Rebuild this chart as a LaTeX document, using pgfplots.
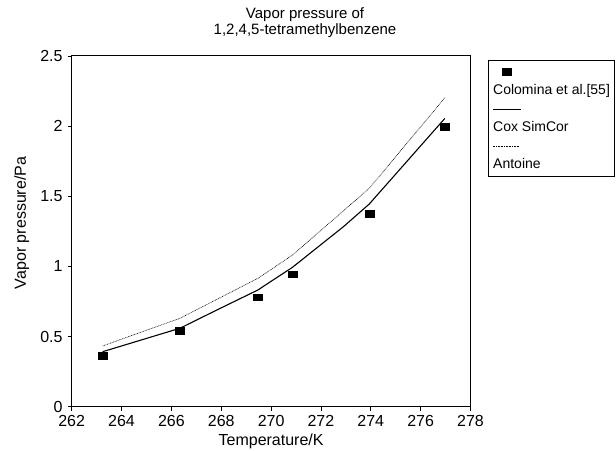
\documentclass[border=0pt]{standalone}
\usepackage{fontspec}
\setmainfont{Liberation Sans}
\usepackage{pgfplots}
\pgfplotsset{compat=1.18}
\pgfplotsset{
  legsq/.style={legend image code/.code={\path (0pt,0pt); \fill[overlay,black] (9.5pt,-3.5pt) rectangle (18.5pt,3.5pt);}},
  legline/.style={legend image code/.code={\path (0pt,0pt); \draw[overlay,black,line width=1.1pt] (0pt,0pt) -- (28pt,0pt);}},
  legdot/.style={legend image code/.code={\path (0pt,0pt); \draw[overlay,black,line width=0.6pt,dash pattern=on 0.8pt off 0.8pt] (0pt,0pt) -- (27pt,0pt);}},
  legnone/.style={legend image code/.code={\path (0pt,0pt);}},
}
\begin{document}
\begin{tikzpicture}[x=1pt,y=1pt]
\useasboundingbox (0,0) rectangle (616,450);
\begin{axis}[
  at={(71.7pt,43.3pt)}, anchor=south west,
  scale only axis, width=398.8pt, height=350.7pt,
  xmin=262, xmax=278, ymin=0, ymax=2.5,
  xtick={262,264,...,278}, ytick={0,0.5,1,1.5,2,2.5},
  yticklabels={0,0.5,1,1.5,2,2.5},
  xtick pos=bottom, ytick pos=left, tick align=outside,
  major tick length=4pt,
  axis line style={line width=1pt},
  tick style={line width=0.8pt, black},
  /pgf/number format/assume math mode=true,
  every tick label/.append style={font=\fontsize{16}{17}\selectfont, inner sep=0.5pt},
  xticklabel style={yshift=-4pt},
  yticklabel style={xshift=-4.5pt},
  xlabel={Temperature/K}, ylabel={Vapor pressure/Pa},
  label style={font=\fontsize{16}{17}\selectfont},
  xlabel style={at={(axis description cs:0.5,-0.111)}, anchor=base},
  ylabel style={at={(axis description cs:-0.1254,0.524)}, anchor=center, rotate=0},
  title={Vapor pressure of\\1,2,4,5-tetramethylbenzene},
  title style={at={(axis description cs:0.585,1.079)}, anchor=center, align=center, font=\fontsize{15}{16}\selectfont},
  legend cell align=left,
  legend style={at={(axis description cs:1.0439,0.9886)}, anchor=north west,
    draw=black, line width=0.8pt, inner sep=4pt, row sep=2.5pt,
    nodes={inner sep=0pt, text height=12pt, text depth=4pt, font=\fontsize{14}{16}\selectfont}},
]
\addplot[black, line width=1.1pt, forget plot] coordinates {
  (263.24,0.392) (266.34,0.559) (267.82,0.689) (269.47,0.832)
  (270.86,0.994) (272.90,1.283) (273.94,1.445) (276.97,2.055)
};
\addplot[black, line width=0.6pt, dash pattern=on 0.8pt off 0.8pt, forget plot] coordinates {
  (263.24,0.433) (266.34,0.630) (269.47,0.915) (270.86,1.081)
  (273.94,1.557) (276.97,2.202)
};
\addplot[only marks, mark=square*, mark size=4pt, black, mark options={xscale=1.1,yscale=0.85}, forget plot] coordinates {
  (263.24,0.361) (266.34,0.542) (269.47,0.780) (270.86,0.944)
  (273.94,1.378) (276.97,1.995)
};
\addlegendimage{legsq}\addlegendentry{}
\addlegendimage{legnone}\addlegendentry{Colomina et al.[55]}
\addlegendimage{legline}\addlegendentry{}
\addlegendimage{legnone}\addlegendentry{Cox SimCor}
\addlegendimage{legdot}\addlegendentry{}
\addlegendimage{legnone}\addlegendentry{Antoine}
\end{axis}
\end{tikzpicture}
\end{document}
